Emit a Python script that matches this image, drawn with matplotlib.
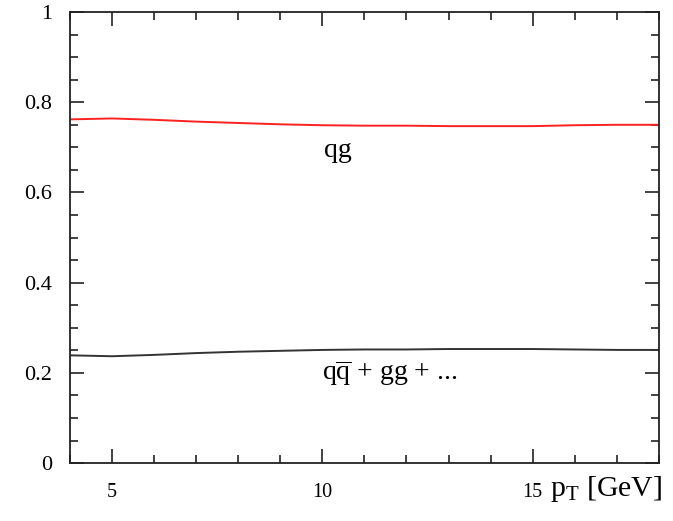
import matplotlib.pyplot as plt
from matplotlib.ticker import MultipleLocator, FixedLocator

plt.rcParams['font.family'] = ['Liberation Serif', 'DejaVu Serif']
plt.rcParams['mathtext.fontset'] = 'custom'
plt.rcParams['mathtext.rm'] = 'Liberation Serif'
plt.rcParams['mathtext.it'] = 'Liberation Serif:italic'

# values
pt = [4, 5, 6, 7, 8, 9, 10, 11, 12, 13, 14, 15, 16, 17, 18]
qg = [0.762, 0.764, 0.761, 0.757, 0.754, 0.751, 0.749, 0.748, 0.748, 0.747, 0.747, 0.747, 0.749, 0.750, 0.750]
rest = [0.239, 0.237, 0.240, 0.244, 0.247, 0.249, 0.251, 0.252, 0.252, 0.253, 0.253, 0.253, 0.252, 0.251, 0.251]
yticks = [0, 0.2, 0.4, 0.6, 0.8, 1.0]
ylabels = ['0', '0.2', '0.4', '0.6', '0.8', '1']

fig = plt.figure(figsize=(6.73, 5.21), dpi=100)
ax = fig.add_axes([0.104, 0.111, 0.875, 0.866])

ax.plot(pt, qg, color='#ff2020', lw=1.4)
ax.plot(pt, rest, color='#333333', lw=1.4)

ax.set_xlim(4, 18)
ax.set_ylim(0, 1)
ax.xaxis.set_major_locator(FixedLocator([5, 10, 15]))
ax.xaxis.set_minor_locator(MultipleLocator(1))
ax.set_yticks(yticks)
ax.set_yticklabels(ylabels)
ax.yaxis.set_minor_locator(MultipleLocator(0.05))

ax.tick_params(which='both', direction='in', top=True, right=True, width=1.2, color='#222222')
ax.tick_params(which='major', length=10)
ax.tick_params(which='minor', length=6)
ax.tick_params(axis='x', which='major', labelsize=14.5, pad=14)
ax.tick_params(axis='y', which='major', labelsize=16, pad=13)
for s in ax.spines.values():
    s.set_linewidth(1.3)
    s.set_color('#222222')

ax.text(10.38, 0.694, 'qg', fontsize=20, ha='center', va='center')
ax.text(10.0, 0.2, r'$\mathrm{q\overline{q}}$ + gg + ...', fontsize=20, ha='left', va='center')
ax.text(1.005, -0.025, r'p$_\mathrm{T}$ [GeV]', fontsize=21.5, ha='right', va='top',
        transform=ax.transAxes)

fig.savefig('out.png', dpi=100)
